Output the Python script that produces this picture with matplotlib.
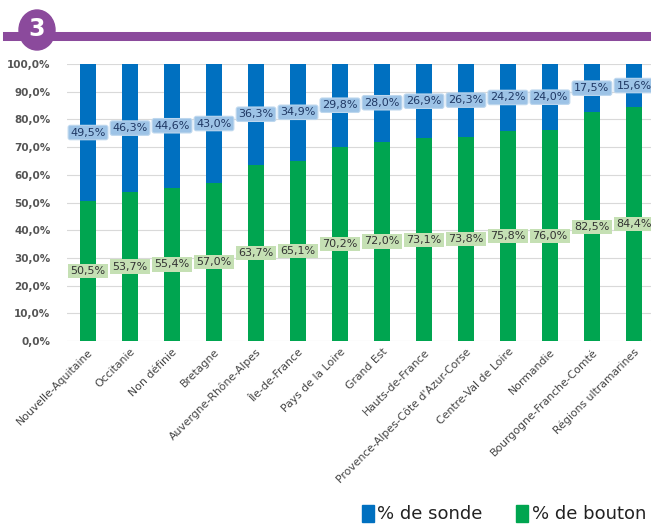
import matplotlib
matplotlib.use("Agg")
import matplotlib.pyplot as plt
from matplotlib.patches import Ellipse, Rectangle

regions = ["Nouvelle-Aquitaine", "Occitanie", "Non définie", "Bretagne",
           "Auvergne-Rhône-Alpes", "Île-de-France", "Pays de la Loire", "Grand Est",
           "Hauts-de-France", "Provence-Alpes-Côte d'Azur-Corse", "Centre-Val de Loire",
           "Normandie", "Bourgogne-Franche-Comté", "Régions ultramarines"]
bouton = [50.5, 53.7, 55.4, 57.0, 63.7, 65.1, 70.2, 72.0, 73.1, 73.8, 75.8, 76.0, 82.5, 84.4]
sonde = [49.5, 46.3, 44.6, 43.0, 36.3, 34.9, 29.8, 28.0, 26.9, 26.3, 24.2, 24.0, 17.5, 15.6]

blue = "#0070C0"
green = "#00A550"
W, H = 651, 524

fig = plt.figure(figsize=(6.51, 5.24), dpi=100)
ax = fig.add_axes([0.103, 0.349, 0.903, 0.529])

x = range(len(regions))
ax.bar(x, bouton, width=0.38, color=green, zorder=2)
ax.bar(x, sonde, width=0.38, bottom=bouton, color=blue, zorder=2)

for i in x:
    ax.text(i, bouton[i] + sonde[i] / 2, f"{sonde[i]:.1f}%".replace(".", ","),
            ha="center", va="center", fontsize=8, color="#1F3864", zorder=3,
            bbox=dict(boxstyle="round,pad=0.2", fc="#9DC3E6", ec="#BDD7EE", lw=0.8))
    ax.text(i, bouton[i] / 2, f"{bouton[i]:.1f}%".replace(".", ","),
            ha="center", va="center", fontsize=8, color="#333333", zorder=3,
            bbox=dict(boxstyle="square,pad=0.2", fc="#C5E0B4", ec="none"))

ax.set_xlim(-0.5, len(regions) - 0.5)
ax.set_ylim(0, 100)
ax.set_yticks(range(0, 101, 10))
ax.set_yticklabels([f"{v},0%" for v in range(0, 101, 10)], fontsize=7.5,
                   color="#555555", fontweight="bold")
ax.set_xticks(list(x))
ax.set_xticklabels(regions, rotation=45, ha="right", rotation_mode="anchor",
                   fontsize=7.8, color="#444444")
ax.grid(axis="y", color="#D9D9D9", lw=0.8, zorder=0)
for s in ax.spines.values():
    s.set_visible(False)
ax.tick_params(length=0, pad=4)
ax.tick_params(axis="y", pad=12)

# header: purple line with numbered badge
fig.add_artist(plt.Line2D([7 / W, 1], [1 - 36 / H] * 2, color="#8B4A9C", lw=6.5,
                          transform=fig.transFigure))
fig.add_artist(Ellipse((37 / W, 1 - 30 / H), 36 / W, 40 / H, transform=fig.transFigure,
                       color="#8B4A9C", zorder=5))
fig.text(37 / W, 1 - 29 / H, "3", ha="center", va="center", fontsize=17,
         color="white", fontweight="bold", zorder=6)

# legend
fig.add_artist(Rectangle((362 / W, 1 - 522 / H), 12 / W, 17 / H,
                         color=blue, transform=fig.transFigure))
fig.text(377 / W, 1 - 514 / H, "% de sonde", va="center", fontsize=13, color="#222222")
fig.add_artist(Rectangle((516 / W, 1 - 522 / H), 12 / W, 17 / H,
                         color=green, transform=fig.transFigure))
fig.text(532 / W, 1 - 514 / H, "% de bouton", va="center", fontsize=13, color="#222222")

fig.savefig("out.png", dpi=100)
